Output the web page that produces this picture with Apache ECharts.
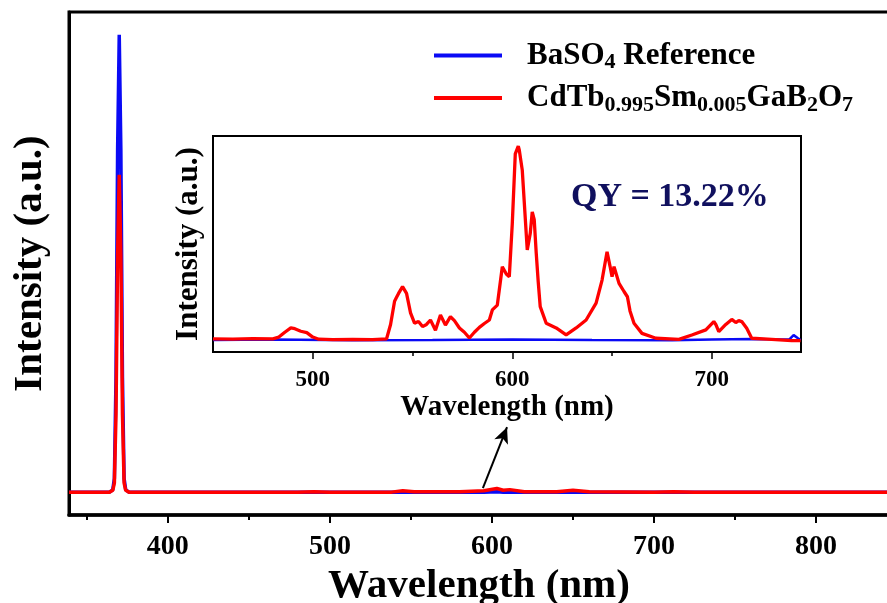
<!DOCTYPE html>
<html>
<head>
<meta charset="utf-8">
<script src="https://cdn.jsdelivr.net/npm/echarts@6/dist/echarts.min.js"></script>
<style>html,body{margin:0;padding:0;background:#fff;overflow:hidden}#c{width:887px;height:603px}</style>
</head>
<body>
<div id="c"></div>
<script>
// ---- Main spectrum (normalized intensity) ----
const mainWl   = [339, 350, 360, 364, 366, 367, 368, 369, 370, 371, 372, 373, 374, 376, 380, 420, 480, 490, 500, 538, 545, 552, 580, 595, 603, 607, 611, 620, 640, 650, 660, 700, 712, 725, 845];
const mainBlue = [0, 0, 0, 0, 0.5, 3, 25, 75, 100, 75, 25, 3, 0.5, 0, 0, 0, 0, 0, 0, 0, 0, 0, 0, 0, 0.1, 0, 0, 0, 0, 0, 0, 0, 0, 0, 0];
const mainRed  = [0, 0, 0, 0, 0.4, 2, 17, 52, 69.4, 52, 17, 2, 0.4, 0, 0, 0, 0, 0.1, 0, 0, 0.3, 0.1, 0.1, 0.3, 0.8, 0.4, 0.55, 0.1, 0.1, 0.4, 0.1, 0, 0.1, 0, 0];

// ---- Inset spectrum ----
const insetWl  = [450, 460, 470, 480, 483, 486, 489, 491, 494, 497, 500, 503, 510, 520, 530, 537, 539, 541, 542, 543, 545, 547, 549, 551, 553, 555, 557, 559, 561.5, 564, 566.5, 569, 571, 573.5, 576, 578.5, 581, 583.5, 586, 588.5, 590, 592.5, 595, 597, 598.5, 600, 601.5, 603, 603.5, 605, 607.5, 609, 610, 611, 612, 613, 614, 617, 622, 627, 632, 637, 642, 645, 647.5, 649, 650, 651, 653.5, 656, 657.7, 659, 661, 665, 672, 683.5, 690, 697, 701, 702, 703.5, 707, 710, 712, 713.5, 715, 717.5, 720, 730, 740, 744.5];
const insetRed = [0.6, 0.4, 0.7, 0.6, 1.5, 4, 6.2, 5.8, 4.5, 3.8, 1.5, 0.4, 0.2, 0.3, 0.2, 0.6, 8, 20, 22, 24, 27.5, 24, 14, 8.7, 9.5, 6.9, 8, 10.3, 5, 12.9, 7.7, 12, 10, 6.2, 4, 1, 4, 6.5, 8.5, 10.3, 15.5, 18, 37.8, 34, 32.6, 60, 96, 100, 98, 87.6, 46.4, 55, 66.1, 62, 44.8, 30, 17.2, 8.6, 6.2, 2.6, 6.2, 10.3, 19, 30.9, 45.5, 38, 32.6, 37.8, 29.2, 25, 22.3, 15, 8.6, 3.4, 0.9, 0.3, 2.6, 5.2, 9.5, 8, 4.3, 8, 10.6, 9, 10, 9.5, 6, 0.9, 0.3, -0.3, -0.3];
const insetBlueWl = [450, 480, 520, 560, 600, 640, 680, 700, 720, 735, 739, 741, 743, 744.5];
const insetBlue   = [0, 0.2, -0.2, 0, 0.3, 0, -0.2, 0.3, 0.5, 0.2, 0.4, 2.5, 1, 0];

// ---- Axis ticks ----
const mainMajorTicks = [400, 500, 600, 700, 800];
const mainMinorTicks = [350, 450, 550, 650, 750];
const insetMajorTicks = [500, 600, 700];
const insetMinorTicks = [550, 650];

const seriesNames = ['BaSO4 Reference', 'CdTb0.995Sm0.005GaB2O7'];
const qyText = 'QY = 13.22%';

const zip = (xs, ys) => xs.map((x, i) => [x, ys[i]]);
const FONT = '"Liberation Serif", "Times New Roman", serif';
const BLUE = '#0a0af5', RED = '#ff0000';

const chart = echarts.init(document.getElementById('c'), null, {renderer: 'canvas'});
chart.setOption({
  animation: false,
  backgroundColor: '#fff',
  textStyle: {fontFamily: FONT},
  title: {
    text: qyText, left: 566, top: 175,
    textStyle: {fontFamily: FONT, fontWeight: 'bold', fontSize: 34, color: '#10105e'}
  },
  legend: {
    data: seriesNames,
    orient: 'vertical', left: 429, top: 35, itemGap: 9,
    icon: 'rect', itemWidth: 68, itemHeight: 4,
    selectedMode: false,
    formatter: function (name) {
      if (name === seriesNames[0]) return '{g|}{b|BaSO}{s|4}{b| Reference}';
      return '{g|}{b|CdTb}{s|0.995}{b|Sm}{s|0.005}{b|GaB}{s|2}{b|O}{s|7}';
    },
    textStyle: {
      fontFamily: FONT, color: '#000',
      rich: {
        g: {width: 20},
        b: {fontFamily: FONT, fontWeight: 'bold', fontSize: 31, lineHeight: 36, color: '#000'},
        s: {fontFamily: FONT, fontWeight: 'bold', fontSize: 22, lineHeight: 22, verticalAlign: 'bottom', color: '#000'}
      }
    }
  },
  grid: [
    {left: 69, right: -2, top: 12, bottom: 88, show: true, borderColor: '#000', borderWidth: 3, backgroundColor: 'transparent', outerBoundsMode: 'none', containLabel: false},
    {left: 213, right: 86, top: 136, bottom: 251, show: true, borderColor: '#000', borderWidth: 2, backgroundColor: '#fff', outerBoundsMode: 'none', containLabel: false}
  ],
  xAxis: [
    {
      type: 'value', gridIndex: 0, min: 339, max: 845,
      name: 'Wavelength (nm)', nameLocation: 'middle', nameGap: 41,
      nameTextStyle: {fontFamily: FONT, fontWeight: 'bold', fontSize: 41, color: '#000'},
      axisLine: {show: true, onZero: false, lineStyle: {color: '#000', width: 3.5}},
      axisTick: {show: true, inside: false, length: 8, lineStyle: {color: '#000', width: 2}, customValues: mainMajorTicks},
      axisLabel: {show: true, margin: 18, fontFamily: FONT, fontWeight: 'bold', fontSize: 28, color: '#000', customValues: mainMajorTicks},
      splitLine: {show: false}
    },
    {
      type: 'value', gridIndex: 0, min: 339, max: 845, position: 'bottom',
      axisLine: {show: false, onZero: false},
      axisTick: {show: true, inside: false, length: 5, lineStyle: {color: '#000', width: 2}, customValues: mainMinorTicks},
      axisLabel: {show: false},
      splitLine: {show: false}
    },
    {
      type: 'value', gridIndex: 1, min: 450, max: 744.7,
      name: 'Wavelength (nm)', nameLocation: 'middle', nameGap: 35,
      nameTextStyle: {fontFamily: FONT, fontWeight: 'bold', fontSize: 29, color: '#000'},
      axisLine: {show: true, onZero: false, lineStyle: {color: '#000', width: 2}},
      axisTick: {show: true, inside: false, length: 7, lineStyle: {color: '#000', width: 1.5}, customValues: insetMajorTicks},
      axisLabel: {show: true, margin: 17, fontFamily: FONT, fontWeight: 'bold', fontSize: 23, color: '#000', customValues: insetMajorTicks},
      splitLine: {show: false}
    },
    {
      type: 'value', gridIndex: 1, min: 450, max: 744.7, position: 'bottom',
      axisLine: {show: false, onZero: false},
      axisTick: {show: true, inside: false, length: 4, lineStyle: {color: '#000', width: 1.5}, customValues: insetMinorTicks},
      axisLabel: {show: false},
      splitLine: {show: false}
    }
  ],
  yAxis: [
    {
      type: 'value', gridIndex: 0, min: -5, max: 105,
      name: 'Intensity (a.u.)', nameLocation: 'middle', nameGap: 18,
      nameTextStyle: {fontFamily: FONT, fontWeight: 'bold', fontSize: 41, color: '#000'},
      axisLine: {show: true, onZero: false, lineStyle: {color: '#000', width: 3}},
      axisTick: {show: false}, axisLabel: {show: false}, splitLine: {show: false}
    },
    {
      type: 'value', gridIndex: 1, min: -6.2, max: 105.2,
      name: 'Intensity (a.u.)', nameLocation: 'middle', nameGap: 9,
      nameTextStyle: {fontFamily: FONT, fontWeight: 'bold', fontSize: 31, color: '#000'},
      axisLine: {show: true, onZero: false, lineStyle: {color: '#000', width: 2}},
      axisTick: {show: false}, axisLabel: {show: false}, splitLine: {show: false}
    }
  ],
  series: [
    {
      name: seriesNames[0], type: 'line', xAxisIndex: 0, yAxisIndex: 0,
      data: zip(mainWl, mainBlue), showSymbol: false, symbol: 'none', color: BLUE,
      lineStyle: {color: BLUE, width: 3.5}, z: 2
    },
    {
      name: seriesNames[1], type: 'line', xAxisIndex: 0, yAxisIndex: 0,
      data: zip(mainWl, mainRed), showSymbol: false, symbol: 'none', color: RED,
      lineStyle: {color: RED, width: 3.5}, z: 3,
      markLine: {
        silent: true, animation: false,
        symbol: ['none', 'arrow'], symbolSize: [11, 16],
        label: {show: false},
        lineStyle: {color: '#000', width: 2, type: 'solid'},
        data: [[{coord: [594.4, 0.9]}, {coord: [609.3, 14.2]}]]
      }
    },
    {
      name: seriesNames[0], type: 'line', xAxisIndex: 2, yAxisIndex: 1,
      data: zip(insetBlueWl, insetBlue), showSymbol: false, symbol: 'none', color: BLUE,
      lineStyle: {color: BLUE, width: 2.5}, z: 4
    },
    {
      name: seriesNames[1], type: 'line', xAxisIndex: 2, yAxisIndex: 1,
      data: zip(insetWl, insetRed), showSymbol: false, symbol: 'none', color: RED,
      lineStyle: {color: RED, width: 3.3}, z: 5
    }
  ]
});
</script>
</body>
</html>
